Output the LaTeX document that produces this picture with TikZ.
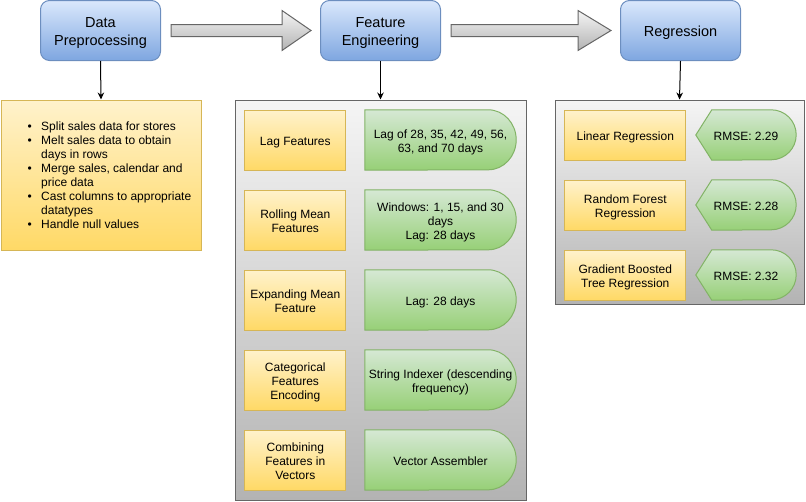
\documentclass[tikz,border=0pt]{standalone}
\usepackage{fontspec}
\setmainfont{Liberation Sans}
\usetikzlibrary{arrows.meta}
\definecolor{blueT}{HTML}{DAE8FC}
\definecolor{blueB}{HTML}{7EA6E0}
\definecolor{blueS}{HTML}{6C8EBF}
\definecolor{yelT}{HTML}{FFF2CC}
\definecolor{yelB}{HTML}{FFD966}
\definecolor{yelS}{HTML}{D6B656}
\definecolor{grnT}{HTML}{D5E8D4}
\definecolor{grnB}{HTML}{97D077}
\definecolor{grnS}{HTML}{82B366}
\definecolor{gryT}{HTML}{F5F5F5}
\definecolor{gryB}{HTML}{B3B3B3}
\definecolor{gryS}{HTML}{666666}
\pgfdeclarelayer{back}
\pgfdeclarelayer{mid}
\pgfsetlayers{back,mid,main}
\newcommand\ctx[2][14.2pt]{\begin{tabular}{@{}c@{}}\rule{0pt}{#1}#2\end{tabular}}
\tikzset{
  txt/.style={font=\fontsize{12}{14}\selectfont},
  topbox/.style={draw=blueS, top color=blueT, bottom color=blueB, rounded corners=9pt,
    minimum width=120pt, minimum height=60pt, inner sep=0pt,
    font=\fontsize{14.5}{18}\selectfont, line width=1pt},
  yelbox/.style={txt, draw=yelS, top color=yelT, bottom color=yelB, inner sep=2pt, line width=1pt},
  container/.style={draw=gryS, top color=gryT, bottom color=gryB, inner sep=0pt, line width=1pt},
  gtext/.style={txt, inner sep=2pt},
  gshape/.style={draw=grnS, top color=grnT, bottom color=grnB, line width=1pt},
  barrow/.style={draw=gryS, top color=gryT, bottom color=gryB, line width=1pt},
  darrow/.style={draw=black, line width=1pt, -{Stealth[length=7pt,width=6.5pt]}}
}
\newcommand\delayshape[1]{%
  \begin{pgfonlayer}{mid}
  \path[gshape] (#1.north west) -- ([xshift=-28pt]#1.north east)
    arc[start angle=90,end angle=-90,x radius=28pt,y radius=30pt]
    -- (#1.south west) -- cycle;
  \end{pgfonlayer}}
\newcommand\dispshape[1]{%
  \begin{pgfonlayer}{mid}
  \path[gshape] (#1.west) -- ([xshift=16pt]#1.north west) -- ([xshift=-25pt]#1.north east)
    arc[start angle=90,end angle=-90,x radius=25pt,y radius=25pt]
    -- ([xshift=16pt]#1.south west) -- cycle;
  \end{pgfonlayer}}
\newcommand\blockarrow[3]{%
  \path[barrow] ([yshift=6pt]#1) -- ([xshift=-#3,yshift=6pt]#2) -- ([xshift=-#3,yshift=20pt]#2)
    -- (#2) -- ([xshift=-#3,yshift=-20pt]#2) -- ([xshift=-#3,yshift=-6pt]#2)
    -- ([yshift=-6pt]#1) -- cycle;}
\begin{document}
\begin{tikzpicture}[x=1pt,y=-1pt]
\useasboundingbox (0,0) rectangle (806,501);

% top boxes
\node[topbox] (dp) at (100.5,30.5) {\ctx[16.6pt]{Data\\Preprocessing}};
\node[topbox] (fe) at (380.5,30.5) {\ctx[16.6pt]{Feature\\Engineering}};
\node[topbox] (reg) at (680.5,30.5) {\ctx[16.6pt]{Regression}};

% block arrows
\coordinate (a1s) at ([xshift=10pt]dp.east);
\coordinate (a1e) at ([xshift=-9pt]fe.west);
\coordinate (a2s) at ([xshift=10pt]fe.east);
\coordinate (a2e) at ([xshift=-9pt]reg.west);
\blockarrow{a1s}{a1e}{29pt}
\blockarrow{a2s}{a2e}{33pt}

% preprocessing box
\node[draw=yelS, top color=yelT, bottom color=yelB, line width=1pt, minimum width=200pt, minimum height=150pt, inner sep=0pt] (pp) at (101,175) {};
\node[font=\fontsize{12}{14}\selectfont, inner sep=0pt, anchor=west] (pptext) at (27.5,177) {%
\begin{tabular}{@{}l@{}l@{}}
\makebox[13.5pt][l]{•} & Split sales data for stores\\
\makebox[13.5pt][l]{•} & Melt sales data to obtain\\
 & days in rows\\
\makebox[13.5pt][l]{•} & Merge sales, calendar and\\
 & price data\\
\makebox[13.5pt][l]{•} & Cast columns to appropriate\\
 & datatypes\\
\makebox[13.5pt][l]{•} & Handle null values
\end{tabular}};

% containers
\begin{pgfonlayer}{back}
\node[container, minimum width=291pt, minimum height=400pt] (fec) at (380.5,300) {};
\node[container, minimum width=249pt, minimum height=204pt] (regc) at (679.5,202) {};
\end{pgfonlayer}

% feature engineering rows
\node[yelbox, minimum width=101pt, minimum height=60pt] (f1) at (295.3,140) {\ctx{Lag Features}};
\node[yelbox, minimum width=101pt, minimum height=60pt] (f2) at (295.3,220) {\ctx{Rolling Mean\\Features}};
\node[yelbox, minimum width=101pt, minimum height=60pt] (f3) at (295.3,300) {\ctx{Expanding Mean\\Feature}};
\node[yelbox, minimum width=101pt, minimum height=60pt] (f4) at (295.3,380) {\ctx{Categorical\\Features\\Encoding}};
\node[yelbox, minimum width=101pt, minimum height=60pt] (f5) at (295.3,460) {\ctx{Combining\\Features in\\Vectors}};

\node[gtext, minimum width=151pt, minimum height=60pt] (g1) at (440.5,140) {\ctx{Lag of 28, 35, 42, 49, 56,\\63, and 70 days}};
\node[gtext, minimum width=151pt, minimum height=60pt] (g2) at (440.5,220) {\ctx{Windows: 1, 15, and 30\\days\\Lag: 28 days}};
\node[gtext, minimum width=151pt, minimum height=60pt] (g3) at (440.5,300) {\ctx{Lag: 28 days}};
\node[gtext, minimum width=151pt, minimum height=60pt] (g4) at (440.5,380) {\ctx{String Indexer (descending\\frequency)}};
\node[gtext, minimum width=151pt, minimum height=60pt] (g5) at (440.5,460) {\ctx{Vector Assembler}};
\delayshape{g1}\delayshape{g2}\delayshape{g3}\delayshape{g4}\delayshape{g5}

% regression rows
\node[yelbox, minimum width=121pt, minimum height=50pt] (r1) at (625.3,135) {\ctx{Linear Regression}};
\node[yelbox, minimum width=121pt, minimum height=50pt] (r2) at (625.3,205) {\ctx{Random Forest\\Regression}};
\node[yelbox, minimum width=121pt, minimum height=50pt] (r3) at (625.3,275) {\ctx{Gradient Boosted\\Tree Regression}};

\node[gtext, minimum width=100pt, minimum height=50pt] (m1) at (746,135) {\ctx{RMSE: 2.29}};
\node[gtext, minimum width=100pt, minimum height=50pt] (m2) at (746,205) {\ctx{RMSE: 2.28}};
\node[gtext, minimum width=100pt, minimum height=50pt] (m3) at (746,275) {\ctx{RMSE: 2.32}};
\dispshape{m1}\dispshape{m2}\dispshape{m3}

% down arrows
\draw[darrow] (dp.south) -- (pp.north);
\draw[darrow] (fe.south) -- (fec.north);
\draw[darrow] (reg.south) -- (regc.north);
\end{tikzpicture}
\end{document}
